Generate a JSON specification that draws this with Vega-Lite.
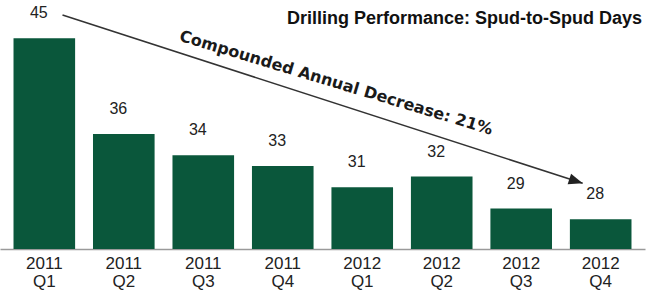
{
  "$schema": "https://vega.github.io/schema/vega-lite/v6.json",
  "width": 645,
  "height": 249,
  "autosize": {"type": "none"},
  "padding": {"left": 0, "top": 0, "right": 2, "bottom": 48},
  "background": "white",
  "config": {"view": {"stroke": null}},
  "title": {
    "text": "Drilling Performance: Spud-to-Spud Days",
    "anchor": "end",
    "frame": "group",
    "orient": "top",
    "offset": 0,
    "baseline": "alphabetic",
    "dy": 42,
    "dx": -3,
    "font": "Liberation Sans",
    "fontSize": 18,
    "fontWeight": "bold",
    "color": "#111111"
  },
  "datasets": {
    "bars": [
      {"q": "2011 Q1", "days": 45},
      {"q": "2011 Q2", "days": 36},
      {"q": "2011 Q3", "days": 34},
      {"q": "2011 Q4", "days": 33},
      {"q": "2012 Q1", "days": 31},
      {"q": "2012 Q2", "days": 32},
      {"q": "2012 Q3", "days": 29},
      {"q": "2012 Q4", "days": 28}
    ],
    "arrow": [
      {"u": 1.229, "v": 47.17, "u2": 7.774, "v2": 31.37}
    ],
    "note": [
      {"u": 4.671, "v": 40.79, "label": "Compounded Annual Decrease: 21%"}
    ]
  },
  "layer": [
    {
      "data": {"name": "bars"},
      "encoding": {
        "x": {
          "field": "q",
          "type": "ordinal",
          "sort": null,
          "scale": {"paddingInner": 0.225, "paddingOuter": 0.17},
          "axis": {
            "title": null,
            "labelAngle": 0,
            "labelExpr": "split(datum.label, ' ')",
            "labelFont": "Liberation Sans",
            "labelFontSize": 17,
            "labelColor": "#222222",
            "labelPadding": 6,
            "labelLineHeight": 18,
            "ticks": false,
            "domainColor": "#9a9a9a",
            "domainWidth": 1.5
          }
        },
        "y": {
          "field": "days",
          "type": "quantitative",
          "scale": {"domain": [25.2, 48.58], "zero": false, "nice": false},
          "axis": null
        }
      },
      "layer": [
        {
          "mark": {"type": "bar", "color": "#0a573b"},
          "encoding": {"y2": {"datum": 25.2}}
        },
        {
          "mark": {
            "type": "text",
            "font": "Liberation Sans",
            "fontSize": 16,
            "color": "#222222",
            "baseline": "alphabetic",
            "align": "center",
            "dx": -5.5,
            "dy": -20
          },
          "encoding": {"text": {"field": "days", "type": "quantitative"}}
        }
      ]
    },
    {
      "layer": [
        {
          "data": {"name": "arrow"},
          "mark": {"type": "rule", "color": "#333333", "strokeWidth": 1.5},
          "encoding": {
            "x": {"field": "u", "type": "quantitative", "scale": {"domain": [0.4425, 8.558], "nice": false, "zero": false}, "axis": null},
            "y": {"field": "v", "type": "quantitative"},
            "x2": {"field": "u2"},
            "y2": {"field": "v2"}
          }
        },
        {
          "data": {"name": "arrow"},
          "mark": {
            "type": "point",
            "shape": "M0,0L-1,-0.4L-1,0.4Z",
            "filled": true,
            "size": 784,
            "color": "#222222",
            "opacity": 1,
            "angle": 18,
            "strokeWidth": 0
          },
          "encoding": {
            "x": {"field": "u2", "type": "quantitative"},
            "y": {"field": "v2", "type": "quantitative"}
          }
        },
        {
          "data": {"name": "note"},
          "mark": {
            "type": "text",
            "font": "DejaVu Sans",
            "fontWeight": "bold",
            "fontSize": 16,
            "color": "#1a1a1a",
            "angle": 16.8,
            "align": "center",
            "baseline": "middle"
          },
          "encoding": {
            "x": {"field": "u", "type": "quantitative"},
            "y": {"field": "v", "type": "quantitative"},
            "text": {"field": "label"}
          }
        }
      ]
    }
  ],
  "resolve": {"scale": {"x": "independent"}}
}
